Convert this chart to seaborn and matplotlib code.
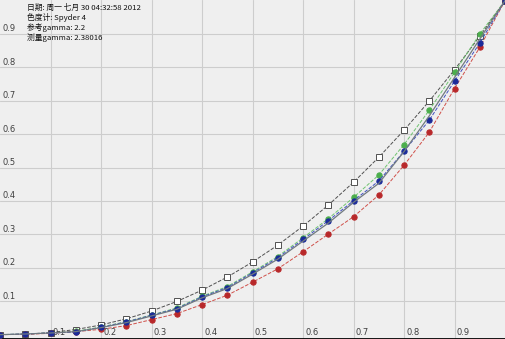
import numpy as np
import pandas as pd
import matplotlib
matplotlib.use("Agg")
import matplotlib.pyplot as plt
import seaborn as sns

# ---- data ----
x_vals = [0.0, 0.05, 0.1, 0.15, 0.2, 0.25, 0.3, 0.35, 0.4, 0.45, 0.5,
          0.55, 0.6, 0.65, 0.7, 0.75, 0.8, 0.85, 0.9, 0.95, 1.0]
ref_22 = [0.0, 0.0014, 0.0063, 0.0154, 0.029, 0.0474, 0.0707, 0.0993, 0.1332, 0.1724, 0.2176,
          0.268, 0.325, 0.3878, 0.4563, 0.531, 0.6121, 0.6993, 0.793, 0.8933, 1.0]
green_vals = [0.0, 0.002, 0.005, 0.010, 0.023, 0.039, 0.059, 0.080, 0.115, 0.144, 0.188,
              0.234, 0.290, 0.347, 0.411, 0.478, 0.569, 0.672, 0.785, 0.900, 1.0]
blue_vals = [0.0, 0.002, 0.005, 0.008, 0.022, 0.038, 0.058, 0.078, 0.113, 0.141, 0.185,
             0.230, 0.285, 0.341, 0.401, 0.460, 0.549, 0.642, 0.759, 0.873, 1.0]
red_vals = [0.0, 0.001, 0.004, 0.009, 0.016, 0.027, 0.045, 0.063, 0.090, 0.118, 0.157,
            0.197, 0.248, 0.301, 0.353, 0.418, 0.507, 0.606, 0.737, 0.860, 1.0]
gray_vals = [0.0, 0.002, 0.005, 0.009, 0.021, 0.036, 0.056, 0.076, 0.110, 0.138, 0.181,
             0.226, 0.280, 0.334, 0.396, 0.453, 0.548, 0.655, 0.770, 0.885, 1.0]
info_lines = ["日期: 周一 七月 30 04:32:58 2012",
              "色度计: Spyder 4",
              "参考gamma: 2.2",
              "测量gamma: 2.38016"]
x_ticks = [0.1, 0.2, 0.3, 0.4, 0.5, 0.6, 0.7, 0.8, 0.9]
y_ticks = [0.1, 0.2, 0.3, 0.4, 0.5, 0.6, 0.7, 0.8, 0.9]

sns.set_theme(style="white")
plt.rcParams['font.family'] = ['Noto Sans CJK SC', 'DejaVu Sans']

fig = plt.figure(figsize=(5.05, 3.39), dpi=100)
ax = fig.add_axes([0, 0, 1, 1])
ax.set_facecolor("#efefef")
fig.patch.set_facecolor("#efefef")

for t in x_ticks:
    ax.axvline(t, color="#cdcdcd", lw=0.8, zorder=0)
for t in y_ticks:
    ax.axhline(t, color="#cdcdcd", lw=0.8, zorder=0)

ms = 3.8
sns.lineplot(x=x_vals, y=ref_22, ax=ax, color="#505050", linestyle="--", lw=0.7,
             marker="s", markersize=ms, markerfacecolor="white",
             markeredgecolor="#505050", markeredgewidth=0.7, zorder=2)
sns.lineplot(x=x_vals, y=green_vals, ax=ax, color="#6fc36f", linestyle="--", lw=0.7,
             marker="o", markersize=ms, markerfacecolor="#4cae4c",
             markeredgecolor="#4cae4c", zorder=3)
sns.lineplot(x=x_vals, y=red_vals, ax=ax, color="#d0504a", linestyle="--", lw=0.7,
             marker="o", markersize=ms, markerfacecolor="#b8282a",
             markeredgecolor="#b8282a", zorder=3)
sns.lineplot(x=x_vals, y=blue_vals, ax=ax, color="#4050c0", linestyle="--", lw=0.7,
             marker="o", markersize=ms, markerfacecolor="#1a2a9a",
             markeredgecolor="#1a2a9a", zorder=4)
sns.lineplot(x=x_vals, y=gray_vals, ax=ax, color="#707a80", linestyle="-", lw=0.9,
             zorder=5)

ax.set_xlim(0, 1.0)
ax.set_ylim(-0.013, 1.002)
ax.set_xticks([])
ax.set_yticks([])
for s in ["top", "right", "left"]:
    ax.spines[s].set_visible(False)
ax.spines["bottom"].set_color("black")
ax.spines["bottom"].set_linewidth(2.0)

tick_font = dict(fontsize=6, color="#404040", family="DejaVu Sans")
for t in y_ticks:
    ax.text(0.004, t + 0.002, f"{t:.1f}", transform=ax.transData, ha="left",
            va="bottom", **tick_font)
for t in x_ticks:
    ax.text(t + 0.004, -0.008, f"{t:.1f}", transform=ax.transData, ha="left",
            va="bottom", **tick_font)

for i, line in enumerate(info_lines):
    ax.text(0.054, 0.99 - i * 0.029, line, transform=ax.transAxes,
            ha="left", va="top", fontsize=5.6, color="#101010")

fig.savefig("out.png", dpi=100, facecolor=fig.get_facecolor())
